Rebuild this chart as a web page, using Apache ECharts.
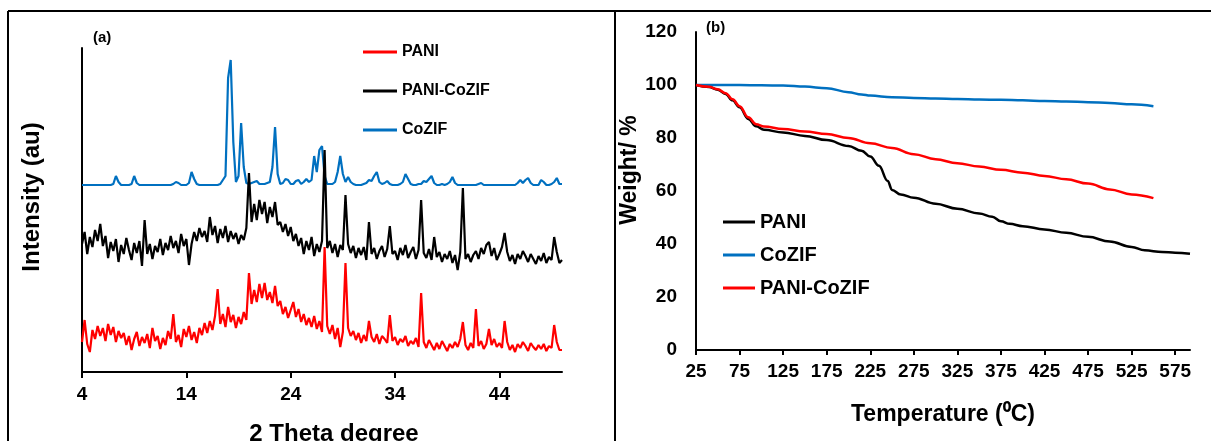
<!DOCTYPE html>
<html>
<head>
<meta charset="utf-8">
<script src="https://cdn.jsdelivr.net/npm/echarts@6/dist/echarts.min.js"></script>
<style>
html,body{margin:0;padding:0;background:#fff;}
#chart{width:1211px;height:441px;}
</style>
</head>
<body>
<div id="chart"></div>
<script>
// ---------- Panel (a): XRD ----------
const xrdStart = 4;      // first 2θ sample (degree)
const xrdStep = 0.25;    // sampling step (degree)
const xrdTicks = [4, 14, 24, 34, 44];
const xrdXTitle = '2 Theta degree';

// CoZIF (blue) intensity, arbitrary units, offset trace
const xrdCoZIF = [
  187,187,187,187,187,187,187,187,
  187,187,187,187,188,196,190,187,
  187,187,187,188,196,189,187,187,
  187,187,187,187,187,187,187,187,
  187,187,187,188,190,189,187,187,
  187,189,200,193,188,187,187,187,
  187,187,187,187,187,188,192,196,
  294,312,230,190,196,249,205,189,
  188,189,190,191,188,188,188,189,
  190,205,245,198,188,189,193,192,
  188,188,191,192,188,190,193,190,
  192,216,200,222,226,196,188,188,
  188,190,200,216,198,190,195,190,
  188,187,187,187,188,189,192,191,
  196,200,190,188,189,191,188,187,
  187,187,188,190,198,193,188,187,
  187,188,188,191,190,193,196,189,
  187,187,188,187,188,190,195,189,
  187,187,187,187,187,187,187,187,
  188,189,187,187,187,187,187,187,
  187,187,187,187,187,187,187,189,
  192,189,192,194,189,187,187,187,
  192,190,187,187,188,190,194,188,
  188
];

// PANI-CoZIF (black)
const xrdPANICoZIF = [
  128,140,118,135,125,142,131,148,
  126,136,114,130,121,133,110,127,
  118,134,122,112,129,119,131,106,
  152,118,128,113,126,120,133,117,
  129,122,136,124,131,119,138,126,
  133,107,128,140,131,144,135,141,
  130,155,137,146,129,143,134,146,
  130,141,133,139,128,137,132,144,
  199,150,168,152,172,158,170,149,
  165,155,170,147,150,140,148,136,
  145,131,138,126,134,118,131,122,
  135,116,128,120,131,222,124,131,
  119,128,115,127,122,177,128,119,
  126,114,124,117,125,112,150,118,
  124,113,121,126,115,123,146,118,
  121,112,124,117,127,114,120,125,
  113,122,172,119,114,123,112,135,
  115,120,110,118,113,121,109,117,
  102,120,184,113,118,110,117,121,
  113,124,118,127,130,116,124,112,
  118,125,139,120,111,117,108,118,
  113,121,116,110,118,113,108,116,
  111,119,109,115,112,135,120,109,
  112
];

// PANI (red)
const xrdPANI = [
  30,52,28,20,42,33,46,36,
  44,31,48,37,45,30,41,34,
  39,27,36,22,33,40,26,35,
  29,38,24,44,31,36,23,34,
  27,41,33,58,30,37,25,43,
  35,46,32,40,29,44,37,49,
  39,51,42,56,83,48,58,45,
  65,50,57,44,55,48,60,52,
  99,68,82,70,88,74,89,72,
  80,69,86,66,71,58,65,54,
  62,70,55,63,50,58,47,54,
  45,56,43,51,40,125,46,38,
  47,33,44,25,40,109,44,36,
  41,32,39,29,37,31,51,35,
  30,38,28,36,33,29,57,31,
  35,27,33,30,36,26,31,28,
  34,25,79,30,24,32,27,22,
  29,23,31,26,21,28,24,30,
  25,33,50,27,22,29,24,63,
  26,31,23,28,43,27,33,25,
  29,24,51,30,22,27,20,28,
  24,30,26,21,29,25,22,27,
  23,28,21,26,24,47,30,22,
  22
];

// ---------- Panel (b): TGA ----------
const tgaXTicks = [25, 75, 125, 175, 225, 275, 325, 375, 425, 475, 525, 575];

const tgaTempPANI = [25,40,50,59,67,75,85,94,103,125,150,175,200,215,225,235,245,250,260,275,300,325,350,365,375,385,400,425,450,475,500,525,540,560,575,592];
const tgaWeightPANI = [100,99.2,98.2,96.6,94.2,91.6,87.2,84.4,83.1,82.1,80.8,79.2,77,75.2,73,69.5,63.8,60.4,58.7,57.5,55.2,53.3,51.5,50.3,48.6,47.6,46.7,45.5,44.2,42.7,40.9,38.9,37.6,37.0,36.7,36.3];

const tgaTempCoZIF = [25,50,75,100,125,150,175,200,215,225,250,275,300,325,350,375,400,425,450,475,500,525,550];
const tgaWeightCoZIF = [100,100,100,99.9,99.8,99.4,98.8,97.3,96.4,96,95.4,95.1,94.9,94.7,94.5,94.4,94.2,94,93.8,93.5,93.2,92.7,92];

const tgaTempPANICoZIF = [25,40,50,59,67,75,85,94,103,125,150,175,200,225,250,275,300,325,350,375,400,425,450,475,500,525,550];
const tgaWeightPANICoZIF = [100,99.3,98.4,96.9,94.6,92.0,87.8,85.2,84.3,83.4,82.5,81.5,80,78,76.2,73.9,72,70.5,69.2,68,66.9,65.7,64.4,62.8,60.6,58.7,57.3];

// ---------- build ----------
const FONT = "'Liberation Sans', Arial, sans-serif";
const RED = '#ff0000', BLACK = '#000000', BLUE = '#0070c0';

const xrdPairs = arr => arr.map((v, i) => [xrdStart + i * xrdStep, v]);
const tgaPairs = (t, w) => t.map((x, i) => [x, w[i]]);
const TGA_SUFFIX = ' (TGA)';

const chart = echarts.init(document.getElementById('chart'), null, {renderer: 'canvas'});

const option = {
  animation: false,
  backgroundColor: '#ffffff',
  textStyle: {fontFamily: FONT},
  grid: [
    {left: 82, top: 48, width: 480, height: 324},
    {left: 696, top: 32, width: 494, height: 318}
  ],
  xAxis: [
    {
      gridIndex: 0, type: 'value', min: 4, max: 50,
      axisLine: {show: true, lineStyle: {color: '#000', width: 2}},
      axisTick: {show: true, length: 6, lineStyle: {color: '#000', width: 2}, customValues: xrdTicks},
      axisLabel: {fontFamily: FONT, fontSize: 19, fontWeight: 'bold', color: '#000', margin: 13, customValues: xrdTicks},
      splitLine: {show: false}
    },
    {
      gridIndex: 1, type: 'value', min: 25, max: 592,
      name: 'Temperature (\u2070C)', nameLocation: 'middle', nameGap: 53,
      nameTextStyle: {fontFamily: FONT, fontSize: 23, fontWeight: 'bold', color: '#000'},
      axisLine: {show: true, lineStyle: {color: '#000', width: 2}},
      axisTick: {show: true, length: 5, lineStyle: {color: '#000', width: 2}, customValues: tgaXTicks},
      axisLabel: {fontFamily: FONT, fontSize: 19, fontWeight: 'bold', color: '#000', margin: 12, customValues: tgaXTicks},
      splitLine: {show: false}
    }
  ],
  yAxis: [
    {
      gridIndex: 0, type: 'value', min: 0, max: 324,
      name: 'Intensity (au)', nameLocation: 'middle', nameGap: 38, nameRotate: 90,
      nameTextStyle: {fontFamily: FONT, fontSize: 24, fontWeight: 'bold', color: '#000', padding: [0, 0, 0, 26]},
      axisLine: {show: true, lineStyle: {color: '#000', width: 2}},
      axisTick: {show: false},
      axisLabel: {show: false},
      splitLine: {show: false}
    },
    {
      gridIndex: 1, type: 'value', min: 0, max: 120, interval: 20,
      name: 'Weight/ %', nameLocation: 'middle', nameGap: 50, nameRotate: 90,
      nameTextStyle: {fontFamily: FONT, fontSize: 23, fontWeight: 'bold', color: '#000', padding: [0, 0, 0, 42]},
      axisLine: {show: true, lineStyle: {color: '#000', width: 2}},
      axisTick: {show: false},
      axisLabel: {fontFamily: FONT, fontSize: 19, fontWeight: 'bold', color: '#000', margin: 19},
      splitLine: {show: false}
    }
  ],
  legend: [
    {
      orient: 'vertical', left: 358, top: 39,
      icon: 'rect', itemWidth: 34, itemHeight: 3, itemGap: 23,
      data: ['PANI', 'PANI-CoZIF', 'CoZIF'],
      textStyle: {fontFamily: FONT, fontSize: 16, fontWeight: 'bold', color: '#000', lineHeight: 16},
      selectedMode: false
    },
    {
      orient: 'vertical', left: 718, top: 207,
      icon: 'rect', itemWidth: 32, itemHeight: 3, itemGap: 13,
      data: ['PANI' + TGA_SUFFIX, 'CoZIF' + TGA_SUFFIX, 'PANI-CoZIF' + TGA_SUFFIX],
      formatter: n => n.replace(TGA_SUFFIX, ''),
      textStyle: {fontFamily: FONT, fontSize: 20, fontWeight: 'bold', color: '#000', lineHeight: 20},
      selectedMode: false
    }
  ],
  graphic: [
    {type: 'line', shape: {x1: 8, y1: 11, x2: 1211, y2: 11}, style: {stroke: '#000', lineWidth: 2}},
    {type: 'line', shape: {x1: 8, y1: 11, x2: 8, y2: 441}, style: {stroke: '#000', lineWidth: 2}},
    {type: 'line', shape: {x1: 615, y1: 11, x2: 615, y2: 441}, style: {stroke: '#000', lineWidth: 2}},
    {type: 'text', x: 93, y: 38, style: {text: '(a)', font: 'bold 15px ' + FONT, fill: '#000', textVerticalAlign: 'middle'}},
    {type: 'text', x: 706, y: 28, style: {text: '(b)', font: 'bold 15px ' + FONT, fill: '#000', textVerticalAlign: 'middle'}},
    {type: 'text', x: 334, y: 434, style: {text: xrdXTitle, font: 'bold 24px ' + FONT, fill: '#000', textAlign: 'center', textVerticalAlign: 'middle'}}
  ],
  series: [
    {name: 'CoZIF', type: 'line', xAxisIndex: 0, yAxisIndex: 0, data: xrdPairs(xrdCoZIF),
     symbol: 'none', lineStyle: {color: BLUE, width: 2.2}, itemStyle: {color: BLUE}},
    {name: 'PANI-CoZIF', type: 'line', xAxisIndex: 0, yAxisIndex: 0, data: xrdPairs(xrdPANICoZIF),
     symbol: 'none', lineStyle: {color: BLACK, width: 2.2}, itemStyle: {color: BLACK}},
    {name: 'PANI', type: 'line', xAxisIndex: 0, yAxisIndex: 0, data: xrdPairs(xrdPANI),
     symbol: 'none', lineStyle: {color: RED, width: 2.2}, itemStyle: {color: RED}},

    {name: 'PANI' + TGA_SUFFIX, type: 'line', xAxisIndex: 1, yAxisIndex: 1, data: tgaPairs(tgaTempPANI, tgaWeightPANI),
     symbol: 'none', smooth: 0.4, smoothMonotone: 'x', lineStyle: {color: BLACK, width: 2.5}, itemStyle: {color: BLACK}},
    {name: 'CoZIF' + TGA_SUFFIX, type: 'line', xAxisIndex: 1, yAxisIndex: 1, data: tgaPairs(tgaTempCoZIF, tgaWeightCoZIF),
     symbol: 'none', smooth: 0.4, smoothMonotone: 'x', lineStyle: {color: BLUE, width: 2.5}, itemStyle: {color: BLUE}},
    {name: 'PANI-CoZIF' + TGA_SUFFIX, type: 'line', xAxisIndex: 1, yAxisIndex: 1, data: tgaPairs(tgaTempPANICoZIF, tgaWeightPANICoZIF),
     symbol: 'none', smooth: 0.4, smoothMonotone: 'x', lineStyle: {color: RED, width: 2.5}, itemStyle: {color: RED}}
  ]
};
chart.setOption(option);
</script>
</body>
</html>
